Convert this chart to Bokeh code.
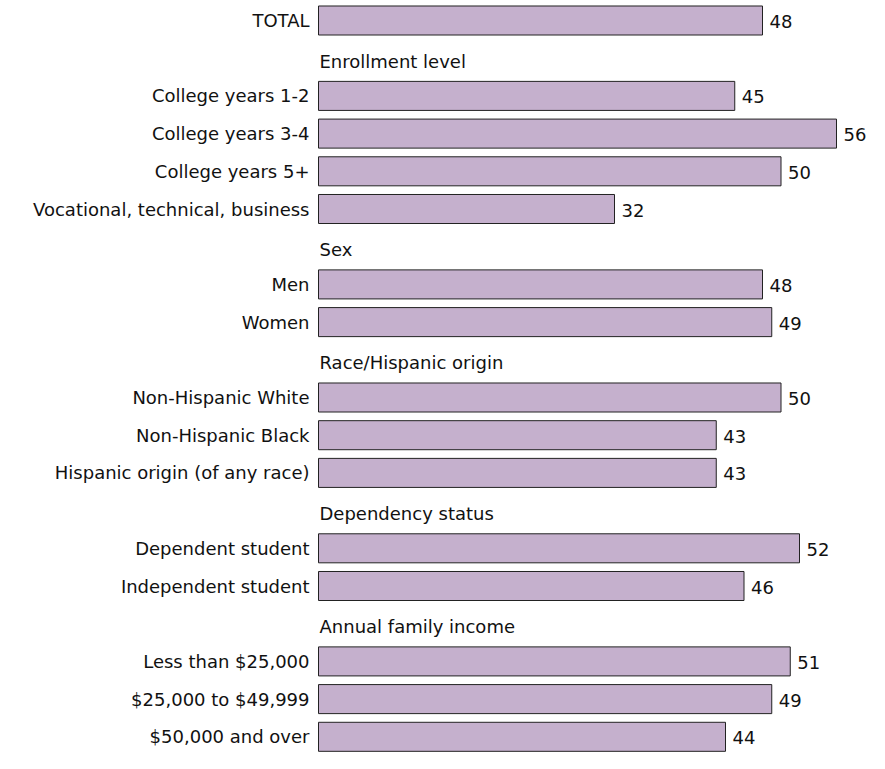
from bokeh.plotting import figure
from bokeh.models import Range1d, ColumnDataSource
from bokeh.core.properties import value
from bokeh.embed import file_html
from bokeh.resources import INLINE

labels = ["TOTAL", "Enrollment level", "College years 1-2", "College years 3-4",
          "College years 5+", "Vocational, technical, business", "Sex", "Men", "Women",
          "Race/Hispanic origin", "Non-Hispanic White", "Non-Hispanic Black",
          "Hispanic origin (of any race)", "Dependency status", "Dependent student",
          "Independent student", "Annual family income", "Less than $25,000",
          "$25,000 to $49,999", "$50,000 and over"]
kinds = ["bar", "header", "bar", "bar", "bar", "bar", "header", "bar", "bar",
         "header", "bar", "bar", "bar", "header", "bar", "bar", "header",
         "bar", "bar", "bar"]
values = [48, None, 45, 56, 50, 32, None, 48, 49, None, 50, 43, 43, None, 52, 46,
          None, 51, 49, 44]

W, H = 869, 753
bar_start_px = 318
px_per_unit = 9.25
slot_px = 37.7
first_px = 20

x0 = -bar_start_px / px_per_unit
x1 = (W - bar_start_px) / px_per_unit
ytop = -first_px / slot_px
ybot = (H - first_px) / slot_px

p = figure(width=W, height=H, output_backend="svg", toolbar_location=None,
           x_range=Range1d(x0, x1), y_range=Range1d(ybot, ytop),
           min_border=0, outline_line_color=None)
p.axis.visible = False
p.grid.visible = False
p.background_fill_color = "white"

bar_y = [i for i, k in enumerate(kinds) if k == "bar"]
bar_v = [values[i] for i in bar_y]
bar_l = [labels[i] for i in bar_y]
hdr_y = [i for i, k in enumerate(kinds) if k == "header"]
hdr_l = [labels[i] for i in hdr_y]

src = ColumnDataSource(dict(y=bar_y, v=bar_v, lab=bar_l, vt=[str(v) for v in bar_v]))
p.hbar(y="y", left=0, right="v", height=0.77, source=src,
       fill_color="#C5B0CD", line_color="#222222", line_width=1)

font = value("DejaVu Sans")
fs = "18px"
p.text(x=0, y="y", text="lab", source=src, x_offset=-9, text_align="right",
       text_baseline="middle", text_font=font, text_font_size=fs, text_color="#111111")
p.text(x="v", y="y", text="vt", source=src, x_offset=7, y_offset=1, text_align="left",
       text_baseline="middle", text_font=font, text_font_size=fs, text_color="#111111")
hsrc = ColumnDataSource(dict(y=hdr_y, lab=hdr_l))
p.text(x=0, y="y", text="lab", source=hsrc, x_offset=1, y_offset=3, text_align="left",
       text_baseline="middle", text_font=font, text_font_size=fs, text_color="#111111")

open("out.html", "w").write(file_html(p, INLINE))
